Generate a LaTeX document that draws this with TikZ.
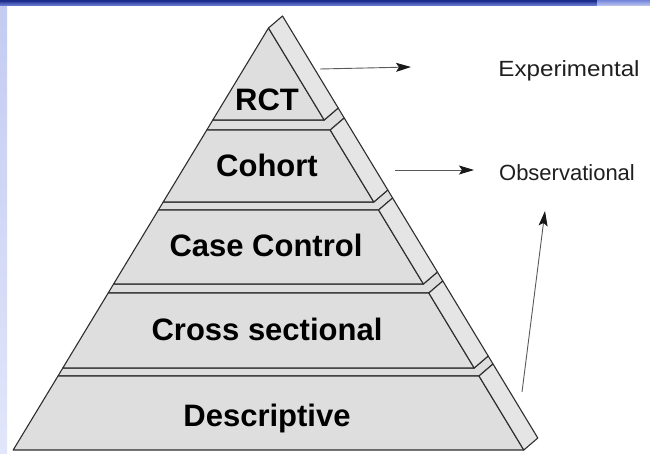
\documentclass[tikz,border=0pt]{standalone}
\usepackage{fontspec}
\setmainfont{Liberation Sans}
\usepackage{tikz}
\usetikzlibrary{arrows.meta,backgrounds}
\definecolor{bandnavy}{HTML}{1B2C8A}
\definecolor{bandblue}{HTML}{7384DA}
\definecolor{bandpale}{HTML}{C3CBF2}
\definecolor{bandfade}{HTML}{E1E6FA}
\newcommand{\tiercolor}{black!13}
\newcommand{\sidecolor}{black!10}
\newcommand{\edgecolor}{black!82}
\newcommand{\edgewidth}{1.1pt}

\begin{document}
\begin{tikzpicture}[x=1pt,y=-1pt,
  tier/.style={fill=\tiercolor,draw=\edgecolor,line width=\edgewidth,line join=round},
  side/.style={fill=\sidecolor,draw=\edgecolor,line width=\edgewidth,line join=round},
  tierlabel/.style={font=\bfseries\fontsize{31}{31}\selectfont,inner sep=0pt,anchor=base},
  sidelabel/.style={font=\fontsize{22}{22}\selectfont,text=black!88,inner sep=0pt,anchor=base},
  pointer/.style={draw=black!65,line width=0.9pt,-{Stealth[length=15pt,width=9pt,inset=3pt,color=black!90]}}]
\useasboundingbox (0,0) rectangle (650,454);
%border
\shade[top color=bandpale,bottom color=bandfade] (0,0) rectangle (7,454);
\shade[top color=bandnavy,bottom color=bandblue] (0,0) rectangle (597,6);
\shade[top color=bandblue,bottom color=bandpale] (597,0) rectangle (650,6);
\fill[bandnavy] (0,0) rectangle (597,2.5);
%corners
\coordinate (top) at (268.5,28);
\coordinate (rct-l) at (212.8,120);
\coordinate (rct-r) at (324.2,120);
\coordinate (coh-tl) at (206.8,130);
\coordinate (coh-tr) at (330.2,130);
\coordinate (coh-bl) at (163.2,202);
\coordinate (coh-br) at (373.8,202);
\coordinate (cc-tl) at (158.4,210);
\coordinate (cc-tr) at (378.6,210);
\coordinate (cc-bl) at (113.6,284);
\coordinate (cc-br) at (423.4,284);
\coordinate (cs-tl) at (108.2,293);
\coordinate (cs-tr) at (428.8,293);
\coordinate (cs-bl) at (62.8,368);
\coordinate (cs-br) at (474.2,368);
\coordinate (de-tl) at (58.0,376);
\coordinate (de-tr) at (479.0,376);
\coordinate (de-bl) at (13.2,450);
\coordinate (de-br) at (523.8,450);
\begin{scope}[on background layer]
%Descriptive
\draw[tier] (de-tl) -- (de-tr) -- ([shift={(14,-12)}]de-tr) -- ([shift={(14,-12)}]cs-br) -- (cs-br) -- (cs-bl) -- cycle;
\draw[tier] (de-tl) -- (de-tr) -- (de-br) -- (de-bl) -- cycle;
\draw[side] (de-tr) -- (de-br) -- ([shift={(14,-12)}]de-br) -- ([shift={(14,-12)}]de-tr) -- cycle;
%Cross sectional
\draw[tier] (cs-tl) -- (cs-tr) -- ([shift={(14,-12)}]cs-tr) -- ([shift={(14,-12)}]cc-br) -- (cc-br) -- (cc-bl) -- cycle;
\draw[tier] (cs-tl) -- (cs-tr) -- (cs-br) -- (cs-bl) -- cycle;
\draw[side] (cs-tr) -- (cs-br) -- ([shift={(14,-12)}]cs-br) -- ([shift={(14,-12)}]cs-tr) -- cycle;
%Case Control
\draw[tier] (cc-tl) -- (cc-tr) -- ([shift={(14,-12)}]cc-tr) -- ([shift={(14,-12)}]coh-br) -- (coh-br) -- (coh-bl) -- cycle;
\draw[tier] (cc-tl) -- (cc-tr) -- (cc-br) -- (cc-bl) -- cycle;
\draw[side] (cc-tr) -- (cc-br) -- ([shift={(14,-12)}]cc-br) -- ([shift={(14,-12)}]cc-tr) -- cycle;
%Cohort
\draw[tier] (coh-tl) -- (coh-tr) -- ([shift={(14,-12)}]coh-tr) -- ([shift={(14,-12)}]rct-r) -- (rct-r) -- (rct-l) -- cycle;
\draw[tier] (coh-tl) -- (coh-tr) -- (coh-br) -- (coh-bl) -- cycle;
\draw[side] (coh-tr) -- (coh-br) -- ([shift={(14,-12)}]coh-br) -- ([shift={(14,-12)}]coh-tr) -- cycle;
%RCT
\draw[tier] (top) -- (rct-r) -- (rct-l) -- cycle;
\draw[side] (top) -- (rct-r) -- ([shift={(14,-12)}]rct-r) -- ([shift={(14,-12)}]top) -- cycle;
\end{scope}
%labels
\node[tierlabel] (rct) at (267,111) {RCT};
\node[tierlabel] (cohort) at (267,177) {Cohort};
\node[tierlabel] (casecontrol) at (266,256) {Case Control};
\node[tierlabel] (crosssec) at (267,340) {Cross sectional};
\node[tierlabel] (descriptive) at (267,426) {Descriptive};
\node[sidelabel,xscale=1.1] (experimental) at (569,77) {Experimental};
\node[sidelabel] (observational) at (567,181) {Observational};
%arrows
\coordinate (exp-from) at (320,69);
\coordinate (exp-to) at (411,67);
\coordinate (obs-from) at (395,170);
\coordinate (obs-to) at (474,170);
\coordinate (up-from) at (522,392);
\coordinate (up-to) at (545,211);
\draw[pointer] (exp-from) -- (exp-to);
\draw[pointer] (obs-from) -- (obs-to);
\draw[pointer] (up-from) -- (up-to);
\end{tikzpicture}
\end{document}
